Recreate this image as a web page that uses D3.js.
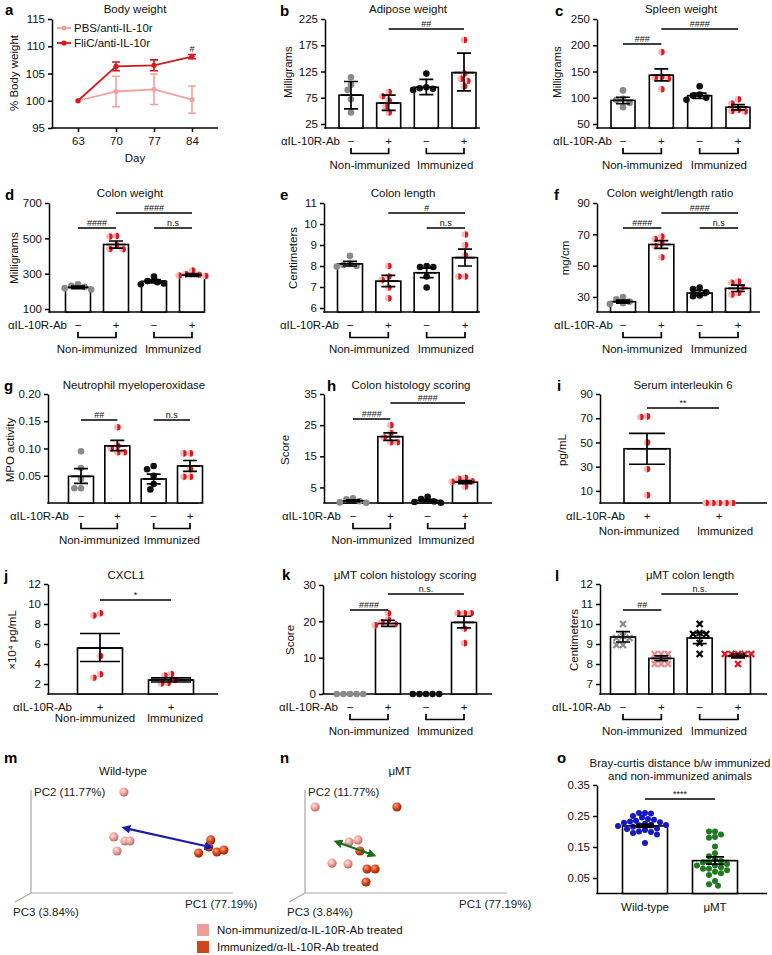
<!DOCTYPE html>
<html><head><meta charset="utf-8">
<script src="https://cdn.jsdelivr.net/npm/d3@7"></script>
<style>body{margin:0;background:#fff}</style>
</head><body>
<svg id="fig" width="772" height="955"></svg>
<script>
// ================= DATA =================
const signs4 = ["−","+","−","+"];
const signs2 = ["+","+"];
const groupNames = ["Non-immunized","Immunized"];
const kinds4 = ["gray","half","black","half"];
const kindsHalf2 = ["half","half"];
const kindsX4 = ["xgray","xpink","xblack","xred"];

// a Body weight
const days = [63,70,77,84];
const pbsMean = [100,101.7,102.1,100.2];
const pbsLo   = [100,98.9,99.3,97.7];
const pbsHi   = [100,104.5,104.9,102.7];
const flicMean = [100,106.3,106.5,108.1];
const flicLo   = [100,105.5,105.5,107.7];
const flicHi   = [100,107.1,107.5,108.5];
const bodyTicks = [95,100,105,110,115];

// b Adipose weight
const adiposeMean = [80,65,95,123];
const adiposeLo = [54,51,81,88];
const adiposeHi = [106,80,110,160];
const adiposePts = [[114,100,90,72,47],[86,78,69,58,47],[121,95,93,92,90],[185,121,111,107,97]];
const adiposeSig = [[1,3,"##",0]];
const adiposeTicks = [25,75,125,175,225];

// c Spleen weight
const spleenMean = [95,143,104,82];
const spleenLo = [89,132,99,77];
const spleenHi = [101,155,109,87];
const spleenPts = [[114,98,96,90,82],[187,140,138,136,116],[122,106,104,100,96],[97,89,77,75,74]];
const spleenSig = [[1,3,"####",0],[0,1,"###",1]];
const spleenTicks = [50,100,150,200,250];

// d Colon weight
const colonWMean = [222,465,257,292];
const colonWLo = [215,445,248,285];
const colonWHi = [230,485,266,300];
const colonWPts = [[240,232,225,218,210],[513,510,462,440,438],[283,258,252,245,240],[318,298,294,290,287]];
const colonWSig = [[1,3,"####",0],[0,1,"####",1],[2,3,"n.s",1]];
const colonWTicks = [100,300,500,700];

// e Colon length
const colonLMean = [8.1,7.28,7.68,8.4];
const colonLLo = [8.0,7.02,7.45,8.0];
const colonLHi = [8.22,7.55,7.9,8.8];
const colonLPts = [[8.48,8.1,8.05,8.0,7.98],[8.0,7.5,7.33,6.98,6.46],[8.0,7.95,7.95,7.5,6.98],[9.5,9.0,8.5,7.5,7.5]];
const colonLSig = [[1,3,"#",0],[2,3,"n.s",1]];
const colonLTicks = [6,7,8,9,10,11];

// f Colon weight/length ratio
const ratioMean = [27,63.5,32.5,35.5];
const ratioLo = [26,61,31,33.5];
const ratioHi = [28,66,34,37.5];
const ratioPts = [[30,28.5,27,26,25.5],[68.5,67,64.3,62.5,55.3],[36,35,33,31,30.5],[39.8,39,36,32.5,31.5]];
const ratioSig = [[1,3,"####",0],[0,1,"####",1],[2,3,"n.s",1]];
const ratioTicks = [30,50,70,90];

// g MPO
const mpoMean = [0.049,0.105,0.044,0.068];
const mpoLo = [0.036,0.096,0.035,0.058];
const mpoHi = [0.063,0.115,0.053,0.078];
const mpoPts = [[0.095,0.064,0.044,0.027,0.027],[0.139,0.105,0.1,0.093,0.093],[0.068,0.062,0.05,0.035,0.025],[0.091,0.091,0.062,0.048,0.048]];
const mpoSig = [[0,1,"##",1],[2,3,"n.s",1]];
const mpoTicks = [0.05,0.10,0.15,0.20];

// h Colon histology
const histMean = [0.7,21.3,0.8,6.7];
const histLo = [0.4,20.1,0.4,6.2];
const histHi = [1.0,22.5,1.2,7.2];
const histPts = [[1.5,1.2,0.6,0.2,0.1],[25,22.5,21,19.5,19.5],[2.0,1.3,0.5,0.3,0.1],[8.1,7.8,7.0,6.8,5.3]];
const histSig = [[1,3,"####",0],[0,1,"####",1]];
const histTicks = [5,15,25,35];

// i Serum IL-6
const il6Mean = [44.8,0];
const il6Lo = [32,0];
const il6Hi = [57.5,0];
const il6Pts = [[71.5,71,50,28,6.5],[0,0,0,0,0]];
const il6Sig = [[0,1,"**",0]];
const il6Ticks = [10,30,50,70,90];

// j CXCL1
const cxclMean = [5.6,2.4];
const cxclLo = [4.25,2.2];
const cxclHi = [7.05,2.62];
const cxclPts = [[9.07,8.85,4.8,2.97,2.63],[3.0,2.85,2.4,2.1,2.05]];
const cxclSig = [[0,1,"*",0]];
const cxclTicks = [2,4,6,8,10,12];

// k muMT histology
const muHistMean = [0,19.4,0,19.7];
const muHistLo = [0,18.6,0,18.2];
const muHistHi = [0,20.3,0,21.4];
const muHistPts = [[0,0,0,0,0],[22.2,20.4,19.7,19.2,18.9],[0,0,0,0,0],[22.2,22.2,22.2,18.0,14.0]];
const muHistSig = [[1,3,"n.s.",0],[0,1,"####",1]];
const muHistTicks = [0,10,20,30];

// l muMT colon length
const muLenMean = [9.35,8.28,9.3,8.4];
const muLenLo = [9.1,8.17,9.02,8.31];
const muLenHi = [9.62,8.41,9.56,8.5];
const muLenPts = [[10.0,9.4,9.3,9.3,8.95,8.95],[8.5,8.5,8.5,8.0,8.0,8.0],[10.0,9.55,9.5,9.5,9.05,8.5],[8.5,8.5,8.5,8.5,8.5,8.0]];
const muLenSig = [[1,3,"n.s.",0],[0,1,"##",1]];
const muLenTicks = [7,8,9,10,11,12];

// m / n PCoA (projected coordinates, 0-100)
const wtNonX = [46,41,46.5,49,42.6];
const wtNonY = [98,54.4,50.5,50.5,40.8];
const wtImmX = [89,88,83,92,95.5];
const wtImmY = [51.5,44.7,38.8,39.8,41.7];
const wtArrow = [[46.5,63],[88.6,44.7]];
const muNonX = [5,21.8,26.2,13.4,21.3];
const muNonY = [83.5,49.5,51.5,29,28.2];
const muImmX = [45.5,27.2,30.7,34.7,30.2];
const muImmY = [83.5,40.8,23.3,23.3,10.7];
const muArrow = [[15.8,49.5],[33.7,36.9]];

// o Bray-curtis
const brayCats = ["Wild-type","μMT"];
const brayMean = [0.218,0.106];
const brayLo = [0.213,0.095];
const brayHi = [0.223,0.118];
const brayPts = [
  [0.26,0.26,0.258,0.25,0.245,0.24,0.238,0.235,0.232,0.23,0.228,0.225,0.222,0.221,0.22,0.218,0.215,0.21,0.208,0.205,0.2,0.198,0.195,0.19,0.163],
  [0.2,0.2,0.19,0.182,0.18,0.152,0.13,0.12,0.11,0.105,0.1,0.1,0.095,0.09,0.09,0.085,0.08,0.08,0.075,0.07,0.065,0.06,0.04,0.03,0.025]];
const braySig = [[0,1,"****",0]];
const brayTicks = [0.05,0.15,0.25,0.35];

// ================= DRAWING =================
const FONT = "'Liberation Sans', Arial, Helvetica, sans-serif";
const svg = d3.select("#fig").attr("font-family", FONT);
const FS = 11.5;
const COL = {gray:"#8a8a8a", black:"#111", pinkHalf:"#f7b9b9", redHalf:"#e3161c",
  xgray:"#8c8c8c", xpink:"#f2888a", xblack:"#000", xred:"#e3161c", blue:"#1717c0", green:"#1d7a1d",
  pbs:"#f4a0a0", flic:"#d8161c"};

function txt(g, x, y, s, o={}) {
  return g.append("text").attr("x",x).attr("y",y).text(s)
    .attr("font-size", o.size||FS).attr("text-anchor", o.anchor||"middle")
    .attr("dominant-baseline", o.base||"central").attr("fill", o.fill||"#111")
    .attr("font-weight", o.weight||"normal").attr("font-style", o.style||"normal");
}
function letter(x,y,s){ txt(svg,x,y,s,{size:15,weight:"bold",anchor:"start",fill:"#000"}); }
function ylabel(x,y,s){ txt(svg,0,0,s).attr("transform",`translate(${x},${y}) rotate(-90)`); }
function styleAxis(ax){
  ax.attr("font-size",FS).attr("font-family",FONT);
  ax.select(".domain").attr("stroke","#000").attr("stroke-width",1.5);
  ax.selectAll(".tick line").attr("stroke","#000").attr("stroke-width",1.5);
  ax.selectAll(".tick text").attr("fill","#111");
}
function swarm(ys, r) {
  const order = ys.map((y,i)=>({y,i})).sort((a,b)=>a.y-b.y);
  const placed = [], out = new Array(ys.length);
  order.forEach(p=>{
    const cands=[0];
    for(let k=1;k<30;k++){cands.push(-k*r, k*r);}
    let dx=0;
    for(const c of cands){
      if(placed.every(q=>Math.hypot(q.dx-c,q.y-p.y)>=2*r*0.92)){dx=c;break;}
    }
    placed.push({dx,y:p.y}); out[p.i]=dx;
  });
  return out;
}
function drawPoint(g,x,y,kind,r){
  if(kind==="half"){
    g.append("circle").attr("cx",x).attr("cy",y).attr("r",r).attr("fill",COL.pinkHalf);
    g.append("path").attr("d",`M${x},${y-r}A${r},${r} 0 0 1 ${x},${y+r}Z`).attr("fill",COL.redHalf);
  } else if(kind[0]==="x" && kind!=="x"){
    const s=r*0.9;
    g.append("path").attr("d",`M${x-s},${y-s}L${x+s},${y+s}M${x-s},${y+s}L${x+s},${y-s}`)
      .attr("stroke",COL[kind]).attr("stroke-width",2.3);
  } else {
    g.append("circle").attr("cx",x).attr("cy",y).attr("r",r).attr("fill",COL[kind]);
  }
}

function barPanel(cfg, d) {
  const g = svg.append("g");
  const y = d3.scaleLinear().domain(cfg.dom).range(cfg.y);
  const n = d.mean.length;
  const x = d3.scalePoint().domain(d3.range(n)).range(cfg.c);
  const yb = cfg.y[0];
  const ax = g.append("g").attr("transform",`translate(${cfg.x0},0)`)
    .call(d3.axisLeft(y).tickValues(d.ticks).tickSize(4).tickSizeOuter(0).tickFormat(d3.format(cfg.fmt||"")));
  styleAxis(ax);
  g.append("line").attr("x1",cfg.x0-0.75).attr("x2",cfg.x1).attr("y1",yb).attr("y2",yb)
    .attr("stroke","#000").attr("stroke-width",1.5);
  d.mean.forEach((m,i)=>{
    g.append("rect").attr("x",x(i)-cfg.barW/2).attr("width",cfg.barW)
      .attr("y",y(m)).attr("height",Math.max(0,yb-y(m)))
      .attr("fill","#fff").attr("stroke","#000").attr("stroke-width",1.6);
  });
  const r = cfg.r||3.3;
  d.pts.forEach((arr,i)=>{
    const ys = arr.map(v=>y(v));
    const dx = swarm(ys, r);
    ys.forEach((yy,k)=>drawPoint(g,x(i)+dx[k],yy,d.kinds[i],r));
  });
  const cap = cfg.cap||7, mw = cfg.meanW||10;
  d.mean.forEach((m,i)=>{
    if(d.hi[i]===d.lo[i]) return;
    const cx=x(i);
    g.append("path").attr("d",
      `M${cx},${y(d.lo[i])}V${y(d.hi[i])}M${cx-cap},${y(d.lo[i])}H${cx+cap}M${cx-cap},${y(d.hi[i])}H${cx+cap}M${cx-mw},${y(m)}H${cx+mw}`)
      .attr("stroke","#000").attr("stroke-width",1.7).attr("fill","none");
  });
  d.sig.forEach(([a,b,lab,lev])=>{
    const sy = cfg.sigY[lev];
    g.append("line").attr("x1",x(a)).attr("x2",x(b)).attr("y1",sy).attr("y2",sy).attr("stroke","#000").attr("stroke-width",1.3);
    txt(g,(x(a)+x(b))/2, sy-5, lab, {size:9});
  });
  if(cfg.title) txt(g,cfg.title[0],cfg.title[1],cfg.title[2]);
  if(cfg.letter) letter(cfg.letter[0],cfg.letter[1],cfg.letter[2]);
  if(cfg.ylab) ylabel(cfg.ylab[0],cfg.ylab[1],cfg.ylab[2]);
  const ty = yb+13;
  if(cfg.xcats){
    cfg.xcats.forEach((s,i)=>txt(g,x(i),ty,s));
    return;
  }
  d.signs.forEach((s,i)=>txt(g,x(i),ty,s));
  txt(g, cfg.c[0]-(cfg.abGap||12), ty, "αIL-10R-Ab", {anchor:"end"});
  if(cfg.bracket!==false){
    [[0,1],[2,3]].forEach(([a,b],k)=>{
      g.append("path").attr("d",`M${x(a)},${yb+20}V${yb+25.5}H${x(b)}V${yb+20}`)
        .attr("fill","none").attr("stroke","#000").attr("stroke-width",1.7);
      txt(g,(x(a)+x(b))/2, yb+37, groupNames[k]);
    });
  } else {
    groupNames.forEach((nm,k)=>txt(g,x(k)+(cfg.groupShift?cfg.groupShift[k]:0),yb+cfg.groupDy,nm));
  }
}

// ---------- panel a ----------
(function(){
  const g = svg.append("g");
  const x = d3.scaleLinear().domain([63,84]).range([78,192]);
  const y = d3.scaleLinear().domain([95,115]).range([128,19]);
  const ay = g.append("g").attr("transform","translate(52,0)")
    .call(d3.axisLeft(y).tickValues(bodyTicks).tickSize(4).tickSizeOuter(0));
  styleAxis(ay);
  const axb = g.append("g").attr("transform","translate(0,128)")
    .call(d3.axisBottom(x).tickValues(days).tickSize(4).tickSizeOuter(0).tickPadding(5));
  styleAxis(axb);
  axb.select(".domain").attr("d","M51.25,0H218");
  const series = [[pbsMean,pbsLo,pbsHi,COL.pbs],[flicMean,flicLo,flicHi,COL.flic]];
  series.forEach(([m,lo,hi,c])=>{
    const line = d3.line().x((v,i)=>x(days[i])).y(v=>y(v));
    g.append("path").attr("d",line(m)).attr("fill","none").attr("stroke",c).attr("stroke-width",1.8);
    m.forEach((v,i)=>{
      if(hi[i]!==lo[i]){
        const cx=x(days[i]);
        g.append("path").attr("d",`M${cx},${y(lo[i])}V${y(hi[i])}M${cx-4},${y(lo[i])}H${cx+4}M${cx-4},${y(hi[i])}H${cx+4}`)
          .attr("stroke",c).attr("stroke-width",1.6).attr("fill","none");
      }
      g.append("circle").attr("cx",x(days[i])).attr("cy",y(v)).attr("r",2.6).attr("fill",c);
    });
  });
  [["PBS/anti-IL-10r",COL.pbs,28],["FliC/anti-IL-10r",COL.flic,43]].forEach(([s,c,yy])=>{
    g.append("line").attr("x1",57).attr("x2",71).attr("y1",yy).attr("y2",yy).attr("stroke",c).attr("stroke-width",1.8);
    g.append("circle").attr("cx",64).attr("cy",yy).attr("r",2.6).attr("fill",c);
    txt(g,74,yy,s,{anchor:"start"});
  });
  txt(g,x(84),49,"#",{size:9});
  txt(g,135,9,"Body weight");
  txt(g,135,158,"Day");
  letter(5,9,"a");
  ylabel(14,73,"% Body weight");
})();

// ---------- bar panels ----------
barPanel({x0:325,x1:480,c:[351,464],y:[128,19],dom:[17.4,225],barW:24,
  title:[408,9,"Adipose weight"],letter:[280,10,"b"],ylab:[288,72,"Milligrams"],sigY:[29,44],abGap:11},
  {mean:adiposeMean,lo:adiposeLo,hi:adiposeHi,pts:adiposePts,kinds:kinds4,sig:adiposeSig,ticks:adiposeTicks,signs:signs4});
barPanel({x0:597,x1:750,c:[623,738],y:[128,19],dom:[42.4,250],barW:24,
  title:[681,9,"Spleen weight"],letter:[555,10,"c"],ylab:[557,72,"Milligrams"],sigY:[29,44],abGap:11},
  {mean:spleenMean,lo:spleenLo,hi:spleenHi,pts:spleenPts,kinds:kinds4,sig:spleenSig,ticks:spleenTicks,signs:signs4});
barPanel({x0:49,x1:204,c:[78,192],y:[312,203],dom:[83,700],barW:25,
  title:[130,193,"Colon weight"],letter:[5,194,"d"],ylab:[14,258,"Milligrams"],sigY:[213,228],abGap:11},
  {mean:colonWMean,lo:colonWLo,hi:colonWHi,pts:colonWPts,kinds:kinds4,sig:colonWSig,ticks:colonWTicks,signs:signs4});
barPanel({x0:324,x1:480,c:[350,465],y:[312,203],dom:[5.81,11],barW:25,
  title:[403,193,"Colon length"],letter:[280,194,"e"],ylab:[293,258,"Centimeters"],sigY:[213,228],abGap:11},
  {mean:colonLMean,lo:colonLLo,hi:colonLHi,pts:colonLPts,kinds:kinds4,sig:colonLSig,ticks:colonLTicks,signs:signs4});
barPanel({x0:597,x1:760,c:[623,738],y:[312,203],dom:[20.4,90],barW:25,
  title:[670,193,"Colon weight/length ratio"],letter:[554,194,"f"],ylab:[565,258,"mg/cm"],sigY:[213,228],abGap:10},
  {mean:ratioMean,lo:ratioLo,hi:ratioHi,pts:ratioPts,kinds:kinds4,sig:ratioSig,ticks:ratioTicks,signs:signs4});
barPanel({x0:48,x1:198,c:[81,190],y:[503,394],dom:[0,0.2],fmt:".2f",barW:25,
  title:[134,385,"Neutrophil myeloperoxidase"],letter:[4,385,"g"],ylab:[10,450,"MPO activity"],sigY:[404,420],abGap:12},
  {mean:mpoMean,lo:mpoLo,hi:mpoHi,pts:mpoPts,kinds:kinds4,sig:mpoSig,ticks:mpoTicks,signs:signs4});
barPanel({x0:324,x1:492,c:[353,465],y:[503,394],dom:[0,35],barW:25,
  title:[411,385,"Colon histology scoring"],letter:[327,385,"h"],ylab:[285,450,"Score"],sigY:[403,419],abGap:12},
  {mean:histMean,lo:histLo,hi:histHi,pts:histPts,kinds:kinds4,sig:histSig,ticks:histTicks,signs:signs4});
barPanel({x0:600,x1:767,c:[647,719],y:[503,394],dom:[0,90],barW:46,cap:18,meanW:20,
  title:[683,385,"Serum interleukin 6"],letter:[557,385,"i"],ylab:[562,450,"pg/mL"],sigY:[408,420],
  bracket:false,groupDy:28,abGap:22,groupShift:[-8,6]},
  {mean:il6Mean,lo:il6Lo,hi:il6Hi,pts:il6Pts,kinds:kindsHalf2,sig:il6Sig,ticks:il6Ticks,signs:signs2});
barPanel({x0:48,x1:218,c:[100,171],y:[694,584],dom:[1,12],barW:45,cap:20,meanW:22,
  title:[126,575,"CXCL1"],letter:[4,575,"j"],ylab:[12,640,"×10⁴ pg/mL"],sigY:[600,610],
  bracket:false,groupDy:24,abGap:28,groupShift:[-5,4]},
  {mean:cxclMean,lo:cxclLo,hi:cxclHi,pts:cxclPts,kinds:kindsHalf2,sig:cxclSig,ticks:cxclTicks,signs:signs2});
barPanel({x0:323,x1:492,c:[350,464],y:[694,585],dom:[0,30],barW:25,
  title:[405,575,"μMT colon histology scoring"],letter:[282,574,"k"],ylab:[290,640,"Score"],sigY:[594,610],abGap:12},
  {mean:muHistMean,lo:muHistLo,hi:muHistHi,pts:muHistPts,kinds:kinds4,sig:muHistSig,ticks:muHistTicks,signs:signs4});
barPanel({x0:600,x1:767,c:[623,738],y:[694,584],dom:[6.5,12],barW:25,r:3.3,
  title:[690,575,"μMT colon length"],letter:[555,575,"l"],ylab:[574,640,"Centimeters"],sigY:[594,610],abGap:12},
  {mean:muLenMean,lo:muLenLo,hi:muLenHi,pts:muLenPts,kinds:kindsX4,sig:muLenSig,ticks:muLenTicks,signs:signs4});
barPanel({x0:597,x1:767,c:[645,715],y:[893.5,785],dom:[0,0.35],fmt:".2f",barW:45,cap:9,meanW:14,r:3,
  letter:[557,757,"o"],sigY:[799,810],xcats:brayCats},
  {mean:brayMean,lo:brayLo,hi:brayHi,pts:brayPts,kinds:["blue","green"],sig:braySig,ticks:brayTicks});
txt(svg,680,763,"Bray-curtis distance b/w immunized");
txt(svg,680,776,"and non-immunized animals");

// ---------- PCoA panels m, n ----------
const defs = svg.append("defs");
function grad(id, hiC, base, dark){
  const rg = defs.append("radialGradient").attr("id",id).attr("cx","38%").attr("cy","35%").attr("r","65%");
  rg.append("stop").attr("offset","0%").attr("stop-color",hiC);
  rg.append("stop").attr("offset","55%").attr("stop-color",base);
  rg.append("stop").attr("offset","100%").attr("stop-color",dark);
}
grad("gPink","#fde3df","#ee9f98","#b86e66");
grad("gRed","#f6a27f","#d6441b","#922a0c");
function arrowMarker(id,c){
  defs.append("marker").attr("id",id).attr("viewBox","0 0 10 10").attr("refX",6).attr("refY",5)
    .attr("markerWidth",4).attr("markerHeight",4).attr("orient","auto-start-reverse")
    .append("path").attr("d","M0,0L10,5L0,10z").attr("fill",c);
}
arrowMarker("aBlue","#1c1caa");
arrowMarker("aGreen","#1b6e1b");

function pcoa(cfg, nonX, nonY, immX, immY, arrow, arrowId, arrowC){
  const g = svg.append("g");
  const x = d3.scaleLinear().domain([0,100]).range([cfg.ox, cfg.ox+202]);
  const y = d3.scaleLinear().domain([0,100]).range([cfg.oy, cfg.oy-103]);
  const ax = "#a8a8a8";
  g.append("path").attr("d",`M${cfg.ox},${cfg.oy-103}V${cfg.oy}H${cfg.ox+202}M${cfg.ox},${cfg.oy}L${cfg.ox-16},${cfg.oy+9}`)
    .attr("stroke",ax).attr("stroke-width",1.2).attr("fill","none");
  txt(g,cfg.ox+3,cfg.oy-101,"PC2 (11.77%)",{anchor:"start",fill:"#222"});
  txt(g,cfg.ox-18,cfg.oy+19,"PC3 (3.84%)",{anchor:"start",fill:"#222"});
  txt(g,cfg.ox+154,cfg.oy+11,"PC1 (77.19%)",{anchor:"start",fill:"#222"});
  const pts = nonX.map((v,i)=>({x:v,y:nonY[i],f:"url(#gPink)"}))
    .concat(immX.map((v,i)=>({x:v,y:immY[i],f:"url(#gRed)"})));
  pts.forEach(p=>g.append("circle").attr("cx",x(p.x)).attr("cy",y(p.y)).attr("r",4.6).attr("fill",p.f));
  g.append("line").attr("x1",x(arrow[0][0])).attr("y1",y(arrow[0][1])).attr("x2",x(arrow[1][0])).attr("y2",y(arrow[1][1]))
    .attr("stroke",arrowC).attr("stroke-width",2.2).attr("marker-start",`url(#${arrowId})`).attr("marker-end",`url(#${arrowId})`);
  txt(g,cfg.tx,771,cfg.title);
  letter(cfg.lx,757,cfg.letter);
}
pcoa({ox:31,oy:893,tx:123,lx:4,title:"Wild-type",letter:"m"},wtNonX,wtNonY,wtImmX,wtImmY,wtArrow,"aBlue","#1c1caa");
pcoa({ox:305,oy:893,tx:400,lx:280,title:"μMT",letter:"n"},muNonX,muNonY,muImmX,muImmY,muArrow,"aGreen","#1b6e1b");

// legend
[["Non-immunized/α-IL-10R-Ab treated","#ee9d97",930],["Immunized/α-IL-10R-Ab treated","#d2441d",947]].forEach(([s,c,yy])=>{
  svg.append("rect").attr("x",197).attr("y",yy-6).attr("width",12).attr("height",12).attr("fill",c);
  txt(svg,217,yy,s,{anchor:"start"});
});
</script>
</body></html>
